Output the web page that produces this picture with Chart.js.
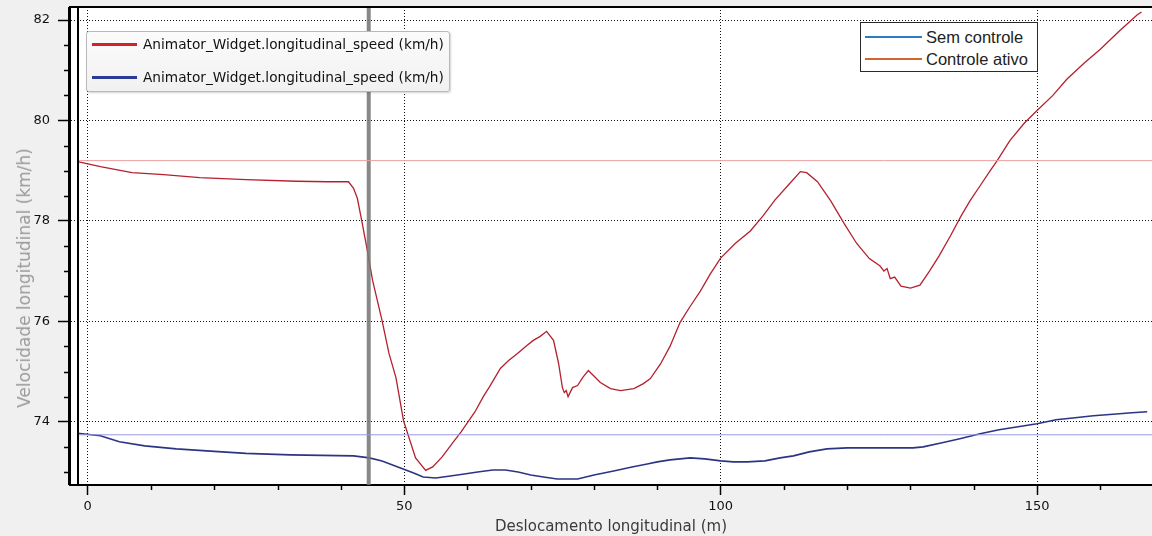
<!DOCTYPE html>
<html lang="pt">
<head>
<meta charset="utf-8">
<title>Velocidade longitudinal</title>
<script src="https://cdn.jsdelivr.net/npm/chart.js@4.4.0/dist/chart.umd.min.js"></script>
<style>
  body { margin: 0; background: #f0f0f0; }
  #wrap { position: relative; width: 1152px; height: 536px; overflow: hidden; }
  #speedChart { position: absolute; left: 0; top: 0; }
  #y-title {
    position: absolute; left: 24px; top: 278px;
    transform: translate(-50%, -50%) rotate(-90deg);
    font: 17px "DejaVu Sans", sans-serif; color: #9a9a9a; white-space: nowrap;
  }
  .legend { position: absolute; box-sizing: border-box; }
  .legend .row { position: absolute; left: 0; right: 0; display: flex; align-items: center; white-space: nowrap; }
  .legend .swatch { display: inline-block; }
  #legend-signals {
    left: 86px; top: 31px; width: 364px; height: 61px;
    background: linear-gradient(#fbfbfb, #f1f1f1);
    border: 1px solid #b9b9b9; border-radius: 3px;
    box-shadow: 1px 1px 2px rgba(0, 0, 0, 0.18);
    font: 13.7px "DejaVu Sans", sans-serif; color: #111;
  }
  #legend-signals .swatch { width: 45px; height: 3px; margin: 0 6px 0 5px; }
  #legend-modes {
    left: 860px; top: 22px; width: 178px; height: 50px;
    background: #fff; border: 1px solid #2a2a2a;
    font: 16.5px "Liberation Sans", Arial, sans-serif; color: #222;
  }
  #legend-modes .swatch { width: 57px; height: 1.5px; margin: 0 4px 0 4px; }
</style>
</head>
<body>
<div id="wrap">
  <canvas id="speedChart" width="1152" height="536"></canvas>
  <div id="y-title"></div>
  <div class="legend" id="legend-signals"></div>
  <div class="legend" id="legend-modes"></div>
</div>
<script>
// speed traces along the road (distance in m, speed in km/h)
const redDistance = [-1.6, 2, 7, 12, 17.7, 25, 33, 38, 41.2, 42, 42.6, 43.3, 44.2, 45, 46.5, 47.6, 48.7, 49.9,
  51.8, 53.4, 54.5, 56, 57.9, 59, 60, 61.2, 62.5, 63.5, 65.2, 66.5, 67.9, 69.2, 70.4, 71.5, 72.5, 73.6,
  74.4, 75, 75.3, 75.6, 75.9, 76.6, 77.4, 78.2, 79.1, 79.9, 81, 82.6, 84.2, 86.3, 87.8, 88.9, 90.5, 92,
  93.6, 95.2, 96.8, 98.4, 100, 102.3, 104.7, 106.7, 108.6, 110.6, 112.6, 113.6, 115.3, 117.4, 119.5,
  121.5, 123.5, 125.2, 125.8, 126.3, 126.8, 127.5, 128.5, 130, 131.5, 133, 134.5, 136.3, 138, 139.4,
  141, 142.6, 143.7, 145.7, 148, 150, 152.5, 154.7, 157.5, 160, 163, 165.8, 166.5];
const redSpeed = [79.18, 79.08, 78.96, 78.92, 78.86, 78.82, 78.79, 78.78, 78.78, 78.65, 78.45, 78.0, 77.4, 76.82,
  76.02, 75.36, 74.88, 74.02, 73.28, 73.03, 73.1, 73.3, 73.62, 73.8, 73.98, 74.2, 74.5, 74.7, 75.06,
  75.22, 75.36, 75.5, 75.62, 75.7, 75.8, 75.62, 75.16, 74.68, 74.58, 74.62, 74.5, 74.68, 74.72, 74.88,
  75.02, 74.92, 74.78, 74.66, 74.62, 74.66, 74.76, 74.86, 75.15, 75.5, 75.98, 76.3, 76.6, 76.95, 77.26,
  77.55, 77.8, 78.1, 78.42, 78.7, 78.98, 78.96, 78.78, 78.4, 77.95, 77.55, 77.25, 77.1, 77.0, 77.05,
  76.85, 76.88, 76.7, 76.66, 76.72, 77.0, 77.3, 77.7, 78.1, 78.4, 78.7, 79.0, 79.2, 79.6, 79.95, 80.2,
  80.5, 80.82, 81.15, 81.42, 81.78, 82.1, 82.16];

const blueDistance = [-1.6, 2, 5, 9, 14, 20, 25, 32, 42, 44.5, 46.5, 49, 51.5, 53, 55, 57.3, 59.5, 61.6, 64, 66,
  68, 70, 72, 74.2, 77.4, 80, 83.1, 86, 88.4, 90, 92, 95.2, 97.5, 100, 102, 104.2, 107, 109.4, 111.5,
  114, 116.8, 120, 125, 130.4, 132, 135, 137.8, 141, 144, 147, 150, 153, 156, 158.9, 162, 165, 167.4];
const blueSpeed = [73.77, 73.72, 73.6, 73.52, 73.46, 73.41, 73.37, 73.34, 73.32, 73.28, 73.22, 73.1, 72.98, 72.9,
  72.88, 72.92, 72.96, 73.0, 73.04, 73.04, 73.0, 72.94, 72.9, 72.86, 72.86, 72.94, 73.02, 73.1, 73.16,
  73.2, 73.24, 73.28, 73.26, 73.22, 73.2, 73.2, 73.22, 73.28, 73.32, 73.4, 73.46, 73.48, 73.48, 73.48,
  73.5, 73.58, 73.66, 73.76, 73.84, 73.9, 73.96, 74.04, 74.08, 74.12, 74.15, 74.18, 74.2];

// horizontal reference levels and the cursor position
const refRed = 79.2;
const refBlue = 73.74;
const cursorDistance = 44.4;

// axes
const xMin = -2.8, xMax = 168.16;
const yMin = 72.74, yMax = 82.26;
const xTicks = [0, 10, 20, 30, 40, 50, 60, 70, 80, 90, 100, 110, 120, 130, 140, 150, 160];
const xLabelTicks = [0, 50, 100, 150];
const yTicks = [73, 73.5, 74, 74.5, 75, 75.5, 76, 76.5, 77, 77.5, 78, 78.5, 79, 79.5, 80, 80.5, 81, 81.5, 82];
const yLabelTicks = [74, 76, 78, 80, 82];

const xTitle = 'Deslocamento longitudinal (m)';
const yTitle = 'Velocidade longitudinal (km/h)';
const signalLabels = ['Animator_Widget.longitudinal_speed (km/h)', 'Animator_Widget.longitudinal_speed (km/h)'];
const signalColors = ['#d3202a', '#2b3a94'];
const modeLabels = ['Sem controle', 'Controle ativo'];
const modeColors = ['#2a7cc4', '#d2652f'];

document.getElementById('y-title').textContent = yTitle;

function buildLegend(id, labels, colors, top0, step) {
  const box = document.getElementById(id);
  labels.forEach((text, i) => {
    const row = document.createElement('div');
    row.className = 'row';
    row.style.top = (top0 + i * step) + 'px';
    row.style.height = '20px';
    row.innerHTML = `<span class="swatch" style="background:${colors[i]}"></span><span>${text}</span>`;
    box.appendChild(row);
  });
}
buildLegend('legend-signals', signalLabels, signalColors, 2, 33);
buildLegend('legend-modes', modeLabels, modeColors, 4, 22);

const isIn = (list, v) => list.some(t => Math.abs(t - v) < 1e-6);
const toPoints = (xs, ys) => xs.map((x, i) => ({ x, y: ys[i] }));

// white plot area, top frame, left start line and short minor ticks
const plotFrame = {
  id: 'plotFrame',
  beforeDraw(chart) {
    const { ctx, chartArea: a } = chart;
    ctx.save();
    ctx.fillStyle = '#ffffff';
    ctx.fillRect(a.left, a.top, a.right - a.left, a.bottom - a.top);
    ctx.restore();
  },
  afterDatasetsDraw(chart) {
    const { ctx, chartArea: a, scales } = chart;
    ctx.save();
    ctx.strokeStyle = '#000';
    ctx.lineWidth = 2;
    ctx.beginPath();
    ctx.moveTo(a.left, a.top);
    ctx.lineTo(a.right, a.top);
    ctx.moveTo(a.left - 1, a.top);
    ctx.lineTo(a.left - 1, a.bottom);
    const sx = Math.round(scales.x.getPixelForValue(redDistance[0]));
    ctx.moveTo(sx, a.top);
    ctx.lineTo(sx, a.bottom);
    ctx.stroke();

    ctx.lineWidth = 1.5;
    ctx.beginPath();
    yTicks.filter(v => !isIn(yLabelTicks, v)).forEach(v => {
      const py = Math.round(scales.y.getPixelForValue(v)) + 0.5;
      ctx.moveTo(a.left - 6, py);
      ctx.lineTo(a.left, py);
    });
    xTicks.filter(v => !isIn(xLabelTicks, v)).forEach(v => {
      const px = Math.round(scales.x.getPixelForValue(v)) + 0.5;
      ctx.moveTo(px, a.bottom);
      ctx.lineTo(px, a.bottom + 5);
    });
    ctx.stroke();
    ctx.restore();
  }
};

const tickFont = { family: 'DejaVu Sans', size: 13 };
const line = { showLine: true, pointRadius: 0, fill: false, tension: 0 };

new Chart(document.getElementById('speedChart'), {
  type: 'scatter',
  data: {
    datasets: [
      { ...line, data: [{ x: redDistance[0], y: refRed }, { x: xMax, y: refRed }], borderColor: '#eaa0a0', borderWidth: 1 },
      { ...line, data: [{ x: blueDistance[0], y: refBlue }, { x: xMax, y: refBlue }], borderColor: '#9898e2', borderWidth: 1 },
      { ...line, data: [{ x: cursorDistance, y: yMin }, { x: cursorDistance, y: yMax }], borderColor: 'rgba(120,120,120,0.88)', borderWidth: 4 },
      { ...line, data: toPoints(blueDistance, blueSpeed), borderColor: '#2c3584', borderWidth: 1.6 },
      { ...line, data: toPoints(redDistance, redSpeed), borderColor: '#b6202e', borderWidth: 1.3 },
    ]
  },
  options: {
    responsive: false,
    animation: false,
    events: [],
    layout: { padding: { top: 7, right: 0, left: 0, bottom: 0 } },
    plugins: { legend: { display: false }, tooltip: { enabled: false } },
    scales: {
      x: {
        type: 'linear',
        min: xMin,
        max: xMax,
        afterBuildTicks: s => { s.ticks = xTicks.map(value => ({ value })); },
        afterFit: s => { s.height = 51; },
        ticks: {
          autoSkip: false, maxRotation: 0, padding: 4, color: '#111', font: tickFont,
          callback: v => (isIn(xLabelTicks, v) ? String(v) : '')
        },
        grid: {
          lineWidth: 1,
          color: c => (c.tick && isIn(xLabelTicks, c.tick.value) ? '#111' : 'rgba(0,0,0,0)'),
          tickColor: c => (c.tick && isIn(xLabelTicks, c.tick.value) ? '#000' : 'rgba(0,0,0,0)'),
          tickLength: 10,
          tickWidth: 1.5
        },
        border: { color: '#000', width: 2, dash: [1, 2] },
        title: { display: true, text: xTitle, color: '#3a3a3a', font: { family: 'DejaVu Sans', size: 15 }, padding: 0 }
      },
      y: {
        type: 'linear',
        min: yMin,
        max: yMax,
        afterBuildTicks: s => { s.ticks = yTicks.map(value => ({ value })); },
        // fixed axis width; top label fits inside the page margin
        afterFit: s => { s.width = 70; s.paddingTop = 0; s.paddingBottom = 0; },
        ticks: {
          autoSkip: false, padding: 8, color: '#111', font: tickFont,
          callback: v => (isIn(yLabelTicks, v) ? String(v) : '')
        },
        grid: {
          lineWidth: 1,
          color: c => (c.tick && isIn(yLabelTicks, c.tick.value) ? '#111' : 'rgba(0,0,0,0)'),
          tickColor: c => (c.tick && isIn(yLabelTicks, c.tick.value) ? '#000' : 'rgba(0,0,0,0)'),
          tickLength: 12,
          tickWidth: 1.5
        },
        border: { color: '#000', width: 2, dash: [1, 2] },
        title: { display: false }
      }
    }
  },
  plugins: [plotFrame]
});
</script>
</body>
</html>
